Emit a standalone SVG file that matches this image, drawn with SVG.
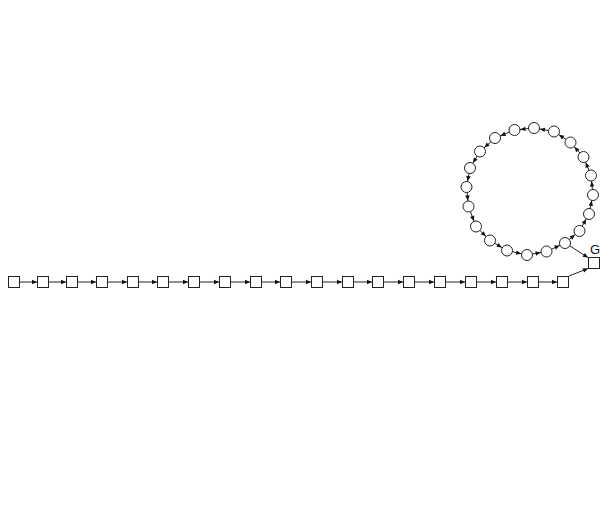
<svg xmlns="http://www.w3.org/2000/svg" width="605" height="529" viewBox="0 0 605 529">
<style>
.n{fill:#fff;stroke:#222;stroke-width:1}
.ec{stroke:#222;stroke-width:1;fill:none;marker-end:url(#ac)}
.es{stroke:#222;stroke-width:1;fill:none;marker-end:url(#a)}
.lbl{font-family:"Liberation Sans",Arial,sans-serif;font-size:13px;fill:#111}
</style>
<defs>
<marker id="a" markerUnits="userSpaceOnUse" markerWidth="6" markerHeight="5" refX="5" refY="2.25" orient="auto" overflow="visible"><path d="M0,0 L5,2.25 L0,4.5 z" fill="#111"/></marker>
<marker id="ac" markerUnits="userSpaceOnUse" markerWidth="12" markerHeight="5" refX="11" refY="2.25" orient="auto" overflow="visible"><path d="M0,0 L5,2.25 L0,4.5 z" fill="#111"/></marker>
</defs>
<rect width="605" height="529" fill="#fff"/>
<g id="connectors">
<line class="es" x1="20" y1="282" x2="37" y2="282"/>
<line class="es" x1="49" y1="282" x2="66" y2="282"/>
<line class="es" x1="78" y1="282" x2="96" y2="282"/>
<line class="es" x1="108" y1="282" x2="127" y2="282"/>
<line class="es" x1="139" y1="282" x2="157" y2="282"/>
<line class="es" x1="169" y1="282" x2="188" y2="282"/>
<line class="es" x1="200" y1="282" x2="219" y2="282"/>
<line class="es" x1="231" y1="282" x2="250" y2="282"/>
<line class="es" x1="262" y1="282" x2="280" y2="282"/>
<line class="es" x1="292" y1="282" x2="311" y2="282"/>
<line class="es" x1="323" y1="282" x2="342" y2="282"/>
<line class="es" x1="354" y1="282" x2="372" y2="282"/>
<line class="es" x1="384" y1="282" x2="403" y2="282"/>
<line class="es" x1="415" y1="282" x2="434" y2="282"/>
<line class="es" x1="446" y1="282" x2="465" y2="282"/>
<line class="es" x1="477" y1="282" x2="496" y2="282"/>
<line class="es" x1="508" y1="282" x2="527" y2="282"/>
<line class="es" x1="539" y1="282" x2="557" y2="282"/>
<line class="es" x1="569" y1="276" x2="588" y2="268.5"/>
<line class="es" x1="570" y1="246" x2="588" y2="257.5"/>
<line class="ec" x1="527" y1="255" x2="546.5" y2="251.5"/>
<line class="ec" x1="546.5" y1="251.5" x2="565" y2="243"/>
<line class="ec" x1="565" y1="243" x2="579.5" y2="231"/>
<line class="ec" x1="579.5" y1="231" x2="589" y2="214"/>
<line class="ec" x1="589" y1="214" x2="593" y2="195"/>
<line class="ec" x1="593" y1="195" x2="591" y2="175.5"/>
<line class="ec" x1="591" y1="175.5" x2="583.5" y2="157"/>
<line class="ec" x1="583.5" y1="157" x2="570.5" y2="142.5"/>
<line class="ec" x1="570.5" y1="142.5" x2="554" y2="131.5"/>
<line class="ec" x1="554" y1="131.5" x2="534" y2="128"/>
<line class="ec" x1="534" y1="128" x2="514.5" y2="130"/>
<line class="ec" x1="514.5" y1="130" x2="495" y2="138"/>
<line class="ec" x1="495" y1="138" x2="480" y2="151.5"/>
<line class="ec" x1="480" y1="151.5" x2="470" y2="168"/>
<line class="ec" x1="470" y1="168" x2="466.5" y2="187"/>
<line class="ec" x1="466.5" y1="187" x2="468.5" y2="206.5"/>
<line class="ec" x1="468.5" y1="206.5" x2="476" y2="226.5"/>
<line class="ec" x1="476" y1="226.5" x2="490" y2="240.5"/>
<line class="ec" x1="490" y1="240.5" x2="507" y2="250.5"/>
<line class="ec" x1="507" y1="250.5" x2="527" y2="255"/>
</g>
<g id="s0"><rect class="n" x="8.5" y="276.5" width="11" height="11"/></g>
<g id="s1"><rect class="n" x="37.5" y="276.5" width="11" height="11"/></g>
<g id="s2"><rect class="n" x="66.5" y="276.5" width="11" height="11"/></g>
<g id="s3"><rect class="n" x="96.5" y="276.5" width="11" height="11"/></g>
<g id="s4"><rect class="n" x="127.5" y="276.5" width="11" height="11"/></g>
<g id="s5"><rect class="n" x="157.5" y="276.5" width="11" height="11"/></g>
<g id="s6"><rect class="n" x="188.5" y="276.5" width="11" height="11"/></g>
<g id="s7"><rect class="n" x="219.5" y="276.5" width="11" height="11"/></g>
<g id="s8"><rect class="n" x="250.5" y="276.5" width="11" height="11"/></g>
<g id="s9"><rect class="n" x="280.5" y="276.5" width="11" height="11"/></g>
<g id="s10"><rect class="n" x="311.5" y="276.5" width="11" height="11"/></g>
<g id="s11"><rect class="n" x="342.5" y="276.5" width="11" height="11"/></g>
<g id="s12"><rect class="n" x="372.5" y="276.5" width="11" height="11"/></g>
<g id="s13"><rect class="n" x="403.5" y="276.5" width="11" height="11"/></g>
<g id="s14"><rect class="n" x="434.5" y="276.5" width="11" height="11"/></g>
<g id="s15"><rect class="n" x="465.5" y="276.5" width="11" height="11"/></g>
<g id="s16"><rect class="n" x="496.5" y="276.5" width="11" height="11"/></g>
<g id="s17"><rect class="n" x="527.5" y="276.5" width="11" height="11"/></g>
<g id="s18"><rect class="n" x="557.5" y="276.5" width="11" height="11"/></g>
<g id="G"><rect class="n" x="588.5" y="257.5" width="11" height="11"/><text class="lbl" x="595" y="253.5" text-anchor="middle">G</text></g>
<g id="c0"><circle class="n" cx="527" cy="255" r="5.5"/></g>
<g id="c1"><circle class="n" cx="546.5" cy="251.5" r="5.5"/></g>
<g id="c2"><circle class="n" cx="565" cy="243" r="5.5"/></g>
<g id="c3"><circle class="n" cx="579.5" cy="231" r="5.5"/></g>
<g id="c4"><circle class="n" cx="589" cy="214" r="5.5"/></g>
<g id="c5"><circle class="n" cx="593" cy="195" r="5.5"/></g>
<g id="c6"><circle class="n" cx="591" cy="175.5" r="5.5"/></g>
<g id="c7"><circle class="n" cx="583.5" cy="157" r="5.5"/></g>
<g id="c8"><circle class="n" cx="570.5" cy="142.5" r="5.5"/></g>
<g id="c9"><circle class="n" cx="554" cy="131.5" r="5.5"/></g>
<g id="c10"><circle class="n" cx="534" cy="128" r="5.5"/></g>
<g id="c11"><circle class="n" cx="514.5" cy="130" r="5.5"/></g>
<g id="c12"><circle class="n" cx="495" cy="138" r="5.5"/></g>
<g id="c13"><circle class="n" cx="480" cy="151.5" r="5.5"/></g>
<g id="c14"><circle class="n" cx="470" cy="168" r="5.5"/></g>
<g id="c15"><circle class="n" cx="466.5" cy="187" r="5.5"/></g>
<g id="c16"><circle class="n" cx="468.5" cy="206.5" r="5.5"/></g>
<g id="c17"><circle class="n" cx="476" cy="226.5" r="5.5"/></g>
<g id="c18"><circle class="n" cx="490" cy="240.5" r="5.5"/></g>
<g id="c19"><circle class="n" cx="507" cy="250.5" r="5.5"/></g>
</svg>
